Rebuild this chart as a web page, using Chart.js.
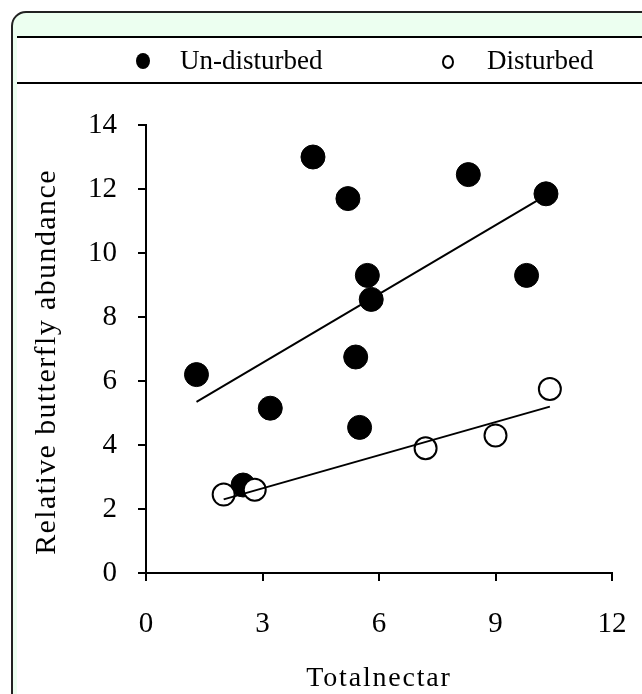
<!DOCTYPE html>
<html>
<head>
<meta charset="utf-8">
<script src="https://cdn.jsdelivr.net/npm/chart.js@4.4.0/dist/chart.umd.min.js"></script>
<style>
  html, body { margin: 0; padding: 0; background: #fff; }
  #wrap { width: 642px; height: 694px; position: relative; }
</style>
</head>
<body>
<div id="wrap"><canvas id="butterflyChart"></canvas></div>
<script>
// Données
const undisturbedX = [1.3, 4.3, 5.2, 8.3, 10.3, 5.7, 5.8, 9.8, 5.4, 3.2, 5.5, 2.5];
const undisturbedY = [6.2, 13.0, 11.7, 12.45, 11.85, 9.3, 8.55, 9.3, 6.75, 5.15, 4.55, 2.75];
const disturbedX = [2.0, 2.8, 7.2, 9.0, 10.4];
const disturbedY = [2.45, 2.6, 3.9, 4.3, 5.75];
// droites de tendance (extrémités)
const undisturbedFitX = [1.3, 10.3];
const undisturbedFitY = [5.35, 11.8];
const disturbedFitX = [2.0, 10.4];
const disturbedFitY = [2.3, 5.2];

const xTitle = 'Totalnectar';
const yTitle = 'Relative butterfly abundance';
const FONT = "'Liberation Serif', 'Times New Roman', serif";

function pts(xs, ys) {
    return xs.map(function(x, i) { return { x: x, y: ys[i] }; });
}

// cadre vert arrondi + légende + titres des axes
const framePlugin = {
    id: 'frame',
    beforeDraw: function(chart) {
        const ctx = chart.ctx;
        const w = chart.width, h = chart.height;
        ctx.save();
        ctx.fillStyle = '#ffffff';
        ctx.fillRect(0, 0, w, h);
        ctx.beginPath();
        ctx.roundRect(12, 12, w + 40, h + 40, 14);
        ctx.fillStyle = '#ecfff0';
        ctx.fill();
        ctx.lineWidth = 2;
        ctx.strokeStyle = '#222';
        ctx.stroke();
        ctx.fillStyle = '#ffffff';
        ctx.fillRect(17, 37, w, h);
        ctx.beginPath();
        ctx.moveTo(17, 37); ctx.lineTo(w, 37);
        ctx.moveTo(17, 83); ctx.lineTo(w, 83);
        ctx.strokeStyle = '#000';
        ctx.stroke();
        ctx.restore();
    },
    afterDraw: function(chart) {
        const ctx = chart.ctx;
        const area = chart.chartArea;
        ctx.save();
        ctx.fillStyle = '#000';
        ctx.font = '27px ' + FONT;
        ctx.textBaseline = 'middle';

        // légende
        const ds = chart.data.datasets;
        ctx.beginPath();
        ctx.ellipse(143, 61, 7, 8, 0, 0, Math.PI * 2);
        ctx.fill();
        ctx.textAlign = 'left';
        ctx.fillText(ds[0].label, 180, 62);
        ctx.beginPath();
        ctx.ellipse(448, 62, 5, 6, 0, 0, Math.PI * 2);
        ctx.lineWidth = 2;
        ctx.stroke();
        ctx.fillText(ds[1].label, 487, 62);

        // titres des axes, lettres espacées
        ctx.textAlign = 'center';
        ctx.font = '28px ' + FONT;
        ctx.letterSpacing = '1.8px';
        ctx.fillText(xTitle, (area.left + area.right) / 2, 679);
        ctx.font = '30px ' + FONT;
        ctx.letterSpacing = '1.4px';
        ctx.translate(47, (area.top + area.bottom) / 2 + 13);
        ctx.rotate(-Math.PI / 2);
        ctx.fillText(yTitle, 0, 0);
        ctx.restore();
    }
};

new Chart(document.getElementById('butterflyChart'), {
    type: 'scatter',
    data: {
        datasets: [
            {
                label: 'Un-disturbed',
                data: pts(undisturbedX, undisturbedY),
                backgroundColor: '#000',
                borderColor: '#000',
                pointRadius: 12,
                pointHoverRadius: 12,
                order: 2
            },
            {
                label: 'Disturbed',
                data: pts(disturbedX, disturbedY),
                backgroundColor: '#fff',
                borderColor: '#000',
                borderWidth: 2,
                pointRadius: 11,
                pointHoverRadius: 11,
                order: 1
            },
            {
                label: 'fit1',
                type: 'line',
                data: pts(undisturbedFitX, undisturbedFitY),
                borderColor: '#000',
                borderWidth: 2,
                pointRadius: 0,
                fill: false,
                order: 0
            },
            {
                label: 'fit2',
                type: 'line',
                data: pts(disturbedFitX, disturbedFitY),
                borderColor: '#000',
                borderWidth: 2,
                pointRadius: 0,
                fill: false,
                order: 0
            }
        ]
    },
    options: {
        responsive: true,
        maintainAspectRatio: false,
        animation: false,
        layout: { padding: { left: 0, top: 125, right: 30, bottom: 0 } },
        scales: {
            x: {
                type: 'linear',
                min: 0,
                max: 12,
                afterFit: function(scale) {
                    scale.height = 121;
                    scale.paddingLeft = 0;
                    scale.paddingRight = 0;
                },
                ticks: {
                    stepSize: 3,
                    color: '#000',
                    padding: 26,
                    font: { family: FONT, size: 29 }
                },
                grid: { drawOnChartArea: false, drawTicks: true, tickLength: 8, color: '#000', lineWidth: 2 },
                border: { color: '#000', width: 2 }
            },
            y: {
                min: 0,
                max: 14,
                afterFit: function(scale) { scale.width = 146; },
                ticks: {
                    stepSize: 2,
                    color: '#000',
                    padding: 21,
                    font: { family: FONT, size: 29 }
                },
                grid: { drawOnChartArea: false, drawTicks: true, tickLength: 8, color: '#000', lineWidth: 2 },
                border: { color: '#000', width: 2 }
            }
        },
        plugins: {
            legend: { display: false },
            tooltip: { enabled: false }
        }
    },
    plugins: [framePlugin]
});
</script>
</body>
</html>
